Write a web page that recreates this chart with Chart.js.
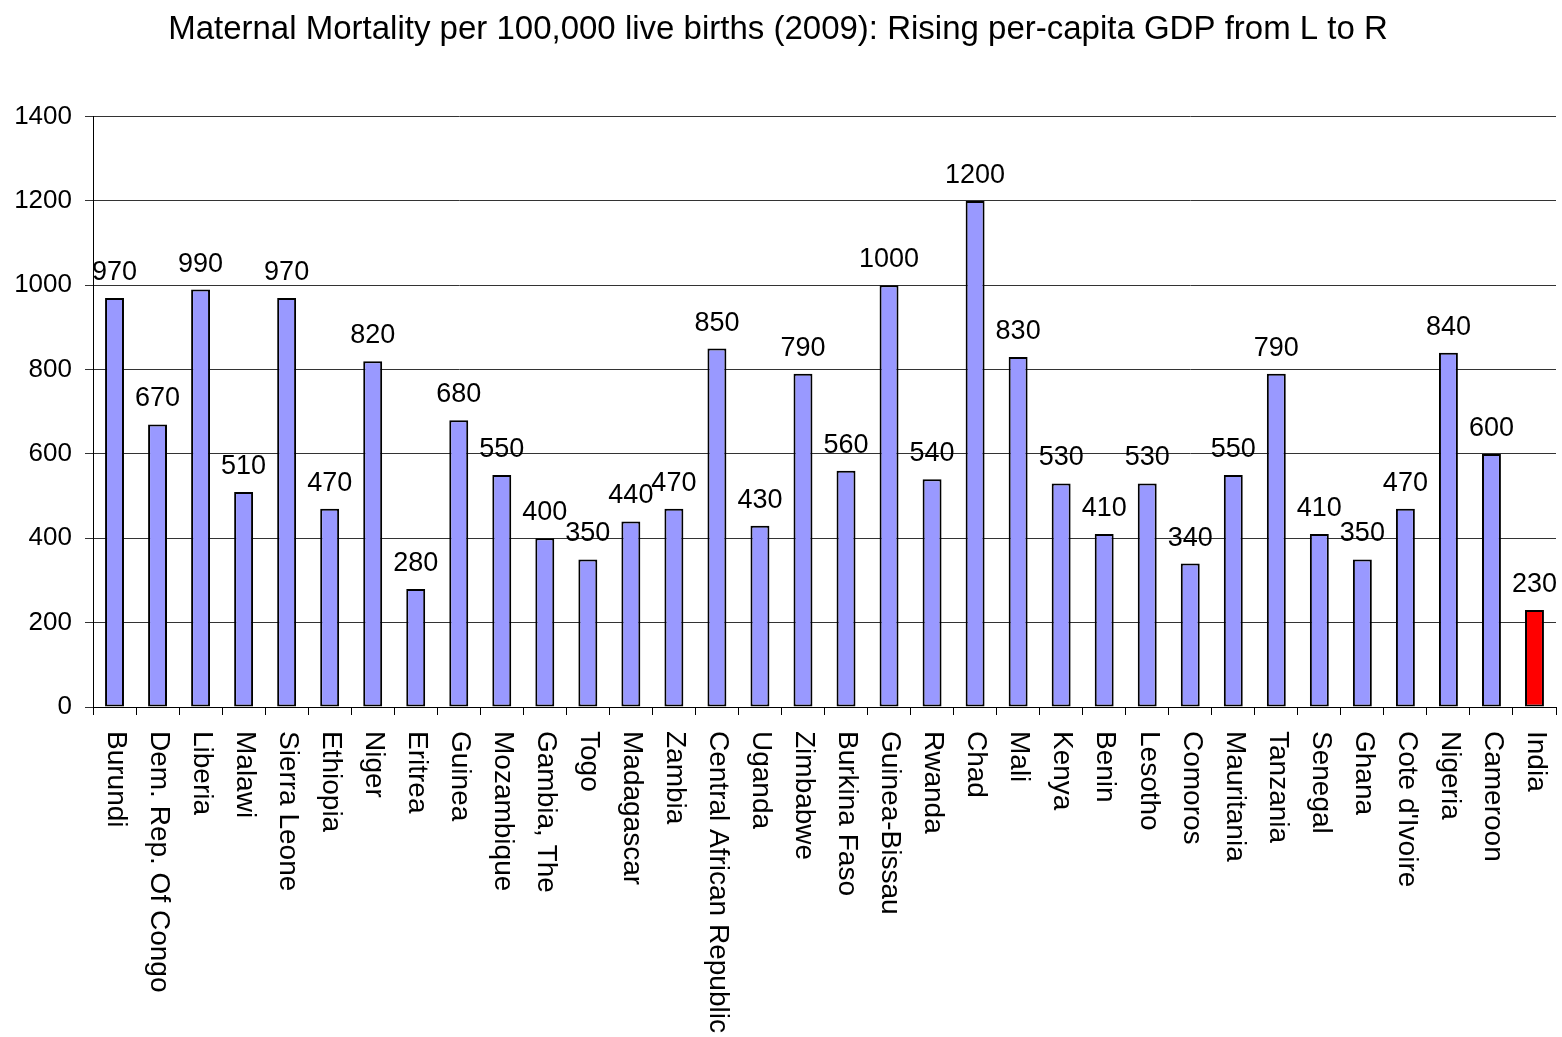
<!DOCTYPE html>
<html>
<head>
<meta charset="utf-8">
<title>Maternal Mortality 2009</title>
<script src="https://cdn.jsdelivr.net/npm/chart.js@4.4.1/dist/chart.umd.min.js"></script>
<style>
  html, body { margin: 0; padding: 0; background: #ffffff; }
  canvas { display: block; }
</style>
</head>
<body>
<canvas id="mm_bar" width="1562" height="1037"></canvas>
<script>
// data, ordered by rising per-capita GDP
const countries = [
  'Burundi', 'Dem. Rep. Of Congo', 'Liberia', 'Malawi', 'Sierra Leone', 'Ethiopia',
  'Niger', 'Eritrea', 'Guinea', 'Mozambique', 'Gambia, The', 'Togo', 'Madagascar',
  'Zambia', 'Central African Republic', 'Uganda', 'Zimbabwe', 'Burkina Faso',
  'Guinea-Bissau', 'Rwanda', 'Chad', 'Mali', 'Kenya', 'Benin', 'Lesotho', 'Comoros',
  'Mauritania', 'Tanzania', 'Senegal', 'Ghana', "Cote d'Ivoire", 'Nigeria',
  'Cameroon', 'India'
];
const mortality = [
  970, 670, 990, 510, 970, 470,
  820, 280, 680, 550, 400, 350, 440,
  470, 850, 430, 790, 560,
  1000, 540, 1200, 830, 530, 410, 530, 340,
  550, 790, 410, 350, 470, 840,
  600, 230
];
const yTicks = [0, 200, 400, 600, 800, 1000, 1200, 1400];
const highlighted = ['India'];

const FONT = "'Liberation Sans', Arial, Helvetica, sans-serif";
const BAR = '#9999ff';
const HILITE = '#ff0000';

// numbers above each bar
const barValues = {
  id: 'barValues',
  afterDatasetsDraw(chart) {
    const ctx = chart.ctx;
    const meta = chart.getDatasetMeta(0);
    ctx.save();
    ctx.font = '27px ' + FONT;
    ctx.fillStyle = '#000';
    ctx.textAlign = 'center';
    ctx.textBaseline = 'alphabetic';
    meta.data.forEach(function(bar, i) {
      ctx.fillText(String(mortality[i]), bar.x, bar.y - 18);
    });
    ctx.restore();
  }
};

// category names, turned to read top to bottom
const downLabels = {
  id: 'downLabels',
  afterDraw(chart) {
    const ctx = chart.ctx;
    const xs = chart.scales.x;
    ctx.save();
    ctx.font = '28px ' + FONT;
    ctx.fillStyle = '#000';
    ctx.textAlign = 'left';
    ctx.textBaseline = 'middle';
    countries.forEach(function(name, i) {
      ctx.save();
      ctx.translate(xs.getPixelForValue(i) + 1, xs.top + 24);
      ctx.rotate(Math.PI / 2);
      ctx.fillText(name, 0, 0);
      ctx.restore();
    });
    ctx.restore();
  }
};

const mm_bar = document.getElementById('mm_bar').getContext('2d');

const mmChart = new Chart(mm_bar, {
  type: 'bar',
  data: {
    labels: countries,
    datasets: [{
      label: 'Maternal mortality',
      data: mortality,
      backgroundColor: countries.map(c => highlighted.includes(c) ? HILITE : BAR),
      borderColor: '#000',
      borderWidth: 2,
      borderSkipped: false,
      categoryPercentage: 1,
      barPercentage: 0.44
    }]
  },
  options: {
    responsive: false,
    animation: false,
    devicePixelRatio: 1,
    layout: { padding: { left: 0, right: 6, top: 0, bottom: 0 } },
    plugins: {
      legend: { display: false },
      tooltip: { enabled: false },
      title: {
        display: true,
        text: 'Maternal Mortality per 100,000 live births (2009): Rising per-capita GDP from L to R',
        color: '#000',
        font: { family: FONT, size: 33, weight: 'normal' },
        padding: { top: 10, bottom: 67 }
      }
    },
    scales: {
      x: {
        grid: {
          offset: true,
          drawOnChartArea: false,
          drawTicks: true,
          tickLength: 8,
          color: '#000'
        },
        border: { color: '#000', width: 1 },
        ticks: { display: false },
        afterFit: function(scale) { scale.height = 330; }
      },
      y: {
        min: 0,
        max: 1400,
        afterBuildTicks: function(scale) {
          scale.ticks = yTicks.map(v => ({ value: v }));
        },
        grid: { color: '#333', tickLength: 8 },
        border: { color: '#000', width: 1 },
        ticks: {
          color: '#000',
          padding: 13,
          font: { family: FONT, size: 26 },
          callback: function(value) { return String(value); }
        },
        afterFit: function(scale) { scale.width = 93; }
      }
    }
  },
  plugins: [barValues, downLabels]
});
</script>
</body>
</html>
